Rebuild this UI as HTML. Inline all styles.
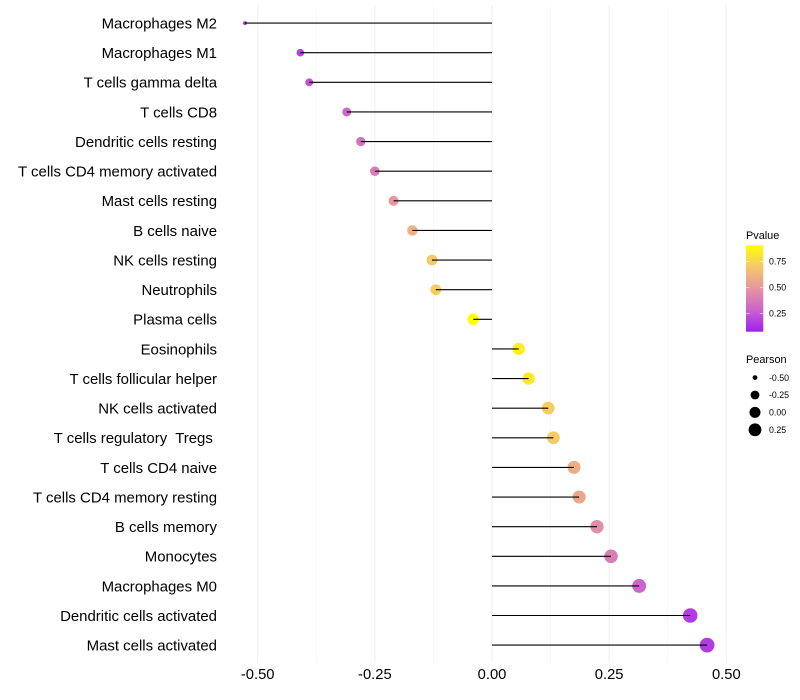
<!DOCTYPE html>
<html>
<head>
<meta charset="utf-8">
<title>Immune cell correlation lollipop chart</title>
<style>
html,body{margin:0;padding:0;background:#fff;}
svg{display:block;}
text{font-family:"Liberation Sans",sans-serif;white-space:pre;}
</style>
</head>
<body>
<svg id="chart" xmlns="http://www.w3.org/2000/svg" width="800" height="700" viewBox="0 0 800 700">
<defs>
<linearGradient id="pvalue-gradient" x1="0" y1="1" x2="0" y2="0">
<stop offset="0" stop-color="#A020F0"/>
<stop offset="0.25" stop-color="#CB63CB"/>
<stop offset="0.5" stop-color="#E596A0"/>
<stop offset="0.75" stop-color="#F5C76A"/>
<stop offset="1" stop-color="#FFFF00"/>
</linearGradient>
</defs>
</svg>
<script>
const categories = ["Macrophages M2","Macrophages M1","T cells gamma delta","T cells CD8","Dendritic cells resting","T cells CD4 memory activated","Mast cells resting","B cells naive","NK cells resting","Neutrophils","Plasma cells","Eosinophils","T cells follicular helper","NK cells activated","T cells regulatory  Tregs ","T cells CD4 naive","T cells CD4 memory resting","B cells memory","Monocytes","Macrophages M0","Dendritic cells activated","Mast cells activated"];
const pearson = [-0.527,-0.409,-0.39,-0.31,-0.28,-0.25,-0.21,-0.17,-0.128,-0.12,-0.04,0.057,0.078,0.12,0.131,0.175,0.186,0.224,0.254,0.314,0.423,0.459];
const pvalue = [0.073,0.18,0.23,0.3,0.34,0.39,0.5,0.61,0.7,0.72,0.904,0.85,0.83,0.72,0.71,0.59,0.56,0.46,0.39,0.29,0.16,0.16];
const xTicks = [-0.5,-0.25,0,0.25,0.5];
const xMinorTicks = [-0.375,-0.125,0.125,0.375];
const xTickLabels = ["-0.50","-0.25","0.00","0.25","0.50"];
const pvalueTicks = [0.25,0.5,0.75];
const pvalueTickLabels = ["0.25","0.50","0.75"];
const pearsonTicks = [-0.5,-0.25,0,0.25];
const pearsonTickLabels = ["-0.50","-0.25","0.00","0.25"];

const svg = document.getElementById('chart');
const NS = 'http://www.w3.org/2000/svg';
function make(tag, attrs, text) {
  const el = document.createElementNS(NS, tag);
  for (const k in attrs) el.setAttribute(k, attrs[k]);
  if (text !== undefined) el.textContent = text;
  svg.appendChild(el);
  return el;
}
const xScale = v => 492 + v * 468.6;
const yScale = i => 23.1 + i * 29.62;
const panelTop = 5, panelBottom = 663;

const pMin = Math.min(...pvalue), pMax = Math.max(...pvalue);
const colorStops = [[160,32,240],[203,99,203],[229,150,160],[245,199,106],[255,255,0]];
function colorScale(p) {
  const t = Math.max(0, Math.min(1, (p - pMin) / (pMax - pMin))) * (colorStops.length - 1);
  const i = Math.min(colorStops.length - 2, Math.floor(t));
  const f = t - i;
  const c = colorStops[i].map((a, k) => Math.round(a + (colorStops[i + 1][k] - a) * f));
  return 'rgb(' + c.join(',') + ')';
}
const rMin = Math.min(...pearson), rMax = Math.max(...pearson);
function sizeScale(v) {
  return 1.9 + 5.5 * Math.sqrt(Math.max(0, (v - rMin) / (rMax - rMin)));
}

xMinorTicks.forEach(v => {
  const el = make('line', {x1: xScale(v), x2: xScale(v), y1: panelTop, y2: panelBottom, stroke: '#f3f3f3', 'stroke-width': 0.55});
  
  
});
xTicks.forEach(v => {
  const el = make('line', {x1: xScale(v), x2: xScale(v), y1: panelTop, y2: panelBottom, stroke: '#f0f0f0', 'stroke-width': 1.07});
  
  
});

categories.forEach((c, i) => {
  const pt = make('circle', {cx: xScale(pearson[i]), cy: yScale(i), r: sizeScale(pearson[i]), fill: colorScale(pvalue[i])});
  
  
});
categories.forEach((c, i) => {
  const ln = make('line', {x1: xScale(0), x2: xScale(pearson[i]), y1: yScale(i), y2: yScale(i), stroke: '#000', 'stroke-width': 1.12});
  
  
  const lb = make('text', {x: 217, y: yScale(i) + 5.4, 'text-anchor': 'end', 'font-size': 14.95, fill: '#000'}, c);
  
  
});
xTicks.forEach((v, i) => {
  const t = make('text', {x: xScale(v), y: 679, 'text-anchor': 'middle', 'font-size': 14.75, fill: '#000'}, xTickLabels[i]);
  
  
});

/* Pvalue legend */
const pTitle = make('text', {x: 746, y: 239, 'font-size': 10.9, fill: '#000'}, 'Pvalue');


const barLeft = 746, barWidth = 17.3;
const barY = p => 287.3 - (p - 0.5) * 104;
const bar = make('rect', {x: barLeft, y: barY(pMax), width: barWidth, height: barY(pMin) - barY(pMax), fill: 'url(#pvalue-gradient)'});


pvalueTicks.forEach((p, i) => {
  const a = make('line', {x1: barLeft, x2: barLeft + 3.5, y1: barY(p), y2: barY(p), stroke: '#fff', 'stroke-width': 0.5});
  
  
  const b = make('line', {x1: barLeft + barWidth - 3.5, x2: barLeft + barWidth, y1: barY(p), y2: barY(p), stroke: '#fff', 'stroke-width': 0.5});
  
  
  const t = make('text', {x: 769, y: barY(p) + 3.2, 'font-size': 8.8, fill: '#000'}, pvalueTickLabels[i]);
  
  
});

/* Pearson legend */
const sTitle = make('text', {x: 746, y: 363, 'font-size': 10.9, fill: '#000'}, 'Pearson');


pearsonTicks.forEach((v, i) => {
  const cy = 377.6 + i * 17.4;
  const d = make('circle', {cx: 755, cy: cy, r: sizeScale(v) - 0.4, fill: '#000'});
  
  
  const t = make('text', {x: 769, y: cy + 3.2, 'font-size': 8.8, fill: '#000'}, pearsonTickLabels[i]);
  
  
});
</script>
</body>
</html>
